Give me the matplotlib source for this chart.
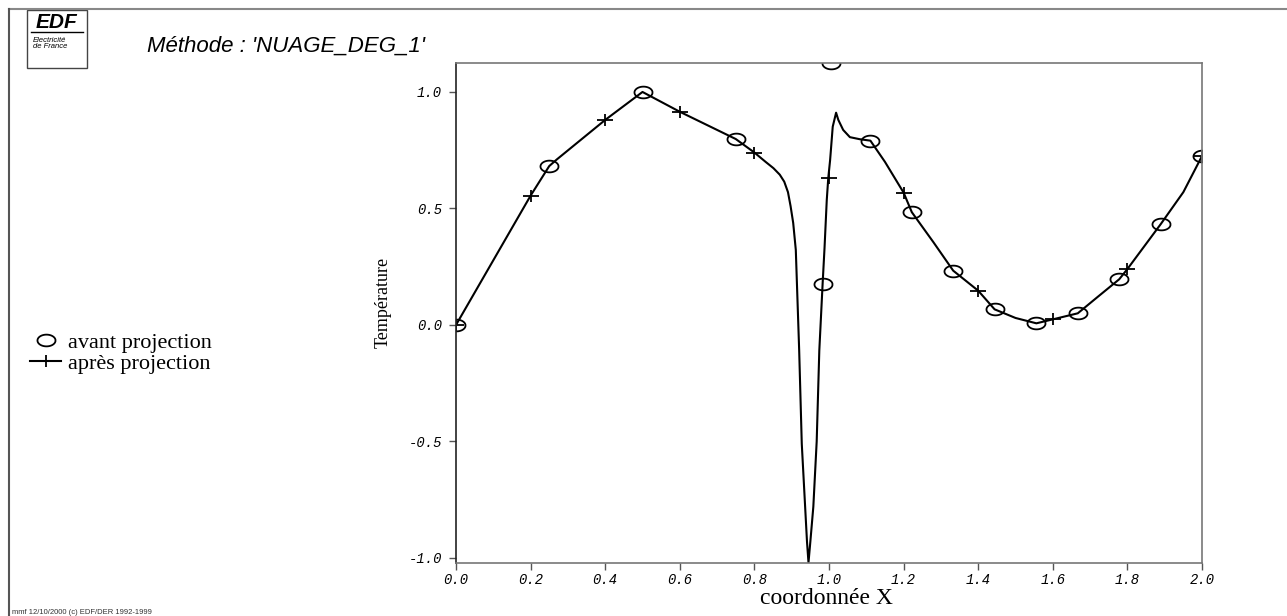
import matplotlib
matplotlib.use("Agg")
import matplotlib.pyplot as plt
from matplotlib.path import Path
from matplotlib.lines import Line2D
from matplotlib.patches import Rectangle
import numpy as np

# courbe "apres projection" (trace fin)
x_curve = [0.0, 0.2, 0.25, 0.27, 0.4, 0.5, 0.6, 0.75, 0.8, 0.83, 0.851, 0.868,
           0.880, 0.890, 0.897, 0.904, 0.911, 0.920, 0.927, 0.936, 0.941, 0.945,
           0.950, 0.958, 0.967, 0.974, 0.983, 0.988, 0.994, 0.998, 1.003, 1.010,
           1.019, 1.025, 1.038, 1.056, 1.083, 1.111, 1.15, 1.2, 1.222, 1.28,
           1.333, 1.4, 1.444, 1.5, 1.556, 1.6, 1.667, 1.72, 1.778, 1.8, 1.889,
           1.95, 2.0]
y_curve = [0.0, 0.555, 0.682, 0.71, 0.88, 1.0, 0.915, 0.798, 0.74, 0.70, 0.673, 0.645,
           0.615, 0.57, 0.51, 0.438, 0.322, -0.107, -0.51, -0.78, -0.93, -1.02,
           -0.93, -0.78, -0.50, -0.11, 0.18, 0.33, 0.536, 0.63, 0.708, 0.851,
           0.911, 0.88, 0.837, 0.806, 0.797, 0.791, 0.70, 0.568, 0.484, 0.355,
           0.233, 0.147, 0.067, 0.03, 0.007, 0.024, 0.05, 0.12, 0.196, 0.24, 0.432,
           0.57, 0.725]

# marqueurs "apres projection"
x_apres = [0.0, 0.2, 0.4, 0.6, 0.8, 1.0, 1.2, 1.4, 1.6, 1.8, 2.0]
y_apres = [0.0, 0.555, 0.88, 0.915, 0.74, 0.63, 0.568, 0.147, 0.024, 0.24, 0.725]

# points "avant projection"
x_avant = [0.0, 0.25, 0.5, 0.75, 0.984, 1.005, 1.111, 1.222, 1.333, 1.444,
           1.556, 1.667, 1.778, 1.889, 2.0]
y_avant = [0.0, 0.682, 1.0, 0.798, 0.176, 1.124, 0.791, 0.484, 0.233, 0.067,
           0.007, 0.05, 0.196, 0.432, 0.725]

x_ticks = [0.0, 0.2, 0.4, 0.6, 0.8, 1.0, 1.2, 1.4, 1.6, 1.8, 2.0]
y_ticks = [-1.0, -0.5, 0.0, 0.5, 1.0]

# marqueurs aplatis (cercle -> ellipse, croix elargie)
t = np.linspace(0, 2 * np.pi, 60)
ellipse = Path(np.column_stack([np.cos(t), 0.65 * np.sin(t)]))
plus = Path([(-1, 0), (1, 0), (0, -0.72), (0, 0.72)],
            [Path.MOVETO, Path.LINETO, Path.MOVETO, Path.LINETO])

W, H = 1287, 616
fig = plt.figure(figsize=(W / 100, H / 100), dpi=100)
fig.patch.set_facecolor("white")

ax = fig.add_axes([456 / W, 1 - 563.3 / H, (1202 - 456) / W, (563.3 - 63.3) / H])
ax.plot(x_curve, y_curve, color="black", lw=1.5)
ax.plot(x_apres, y_apres, ls="none", marker=plus, ms=11.5, mec="black", mew=1.3)
ax.plot(x_avant, y_avant, ls="none", marker=ellipse, ms=13, mfc="none",
        mec="black", mew=1.3)

ax.set_xlim(0, 2.0)
ax.set_ylim(-1.023, 1.123)
ax.set_xticks(x_ticks)
ax.set_yticks(y_ticks)
ax.set_xticklabels([f"{v:.1f}" for v in x_ticks])
ax.set_yticklabels([f"{v:.1f}" for v in y_ticks])
ax.tick_params(direction="out", length=5, width=1, color="#555555", pad=2,
               labelsize=10)
ax.tick_params(axis="y", pad=5)
for lab in ax.get_xticklabels() + ax.get_yticklabels():
    lab.set_family("Liberation Mono")
    lab.set_style("italic")
for side in ["left", "bottom", "top", "right"]:
    ax.spines[side].set_color("#777777")
    ax.spines[side].set_linewidth(1.2)
ax.spines["left"].set_color("#222222")

fig.text(826 / W, 1 - 598 / H, "coordonnée X", family="Liberation Serif",
         fontsize=17, ha="center", va="center")
fig.text(383 / W, 1 - 302 / H, "Température", family="Liberation Serif",
         fontsize=13, ha="center", va="center", rotation=90)

# titre
fig.text(147 / W, 1 - 46 / H, "Méthode : 'NUAGE_DEG_1'", family="Liberation Sans",
         style="italic", fontsize=16, ha="left", va="center")

# cadre exterieur
fig.add_artist(Line2D([9 / W, 1], [1 - 9 / H, 1 - 9 / H], color="#888888", lw=1.5))
fig.add_artist(Line2D([9 / W, 9 / W], [0, 1 - 9 / H], color="#555555", lw=1.5))

# logo EDF
fig.add_artist(Rectangle((27 / W, 1 - 68 / H), 60 / W, 58 / H, fill=False,
                         ec="#444444", lw=1.0, transform=fig.transFigure))
fig.text(57 / W, 1 - 22 / H, "EDF", family="Liberation Sans", weight="bold",
         style="italic", fontsize=15, ha="center", va="center")
fig.add_artist(Line2D([31 / W, 83 / W], [1 - 32 / H, 1 - 32 / H], color="black", lw=1.0))
fig.text(33 / W, 1 - 40 / H, "Electricité", family="Liberation Sans",
         style="italic", fontsize=5.5, ha="left", va="center")
fig.text(33 / W, 1 - 47 / H, "de France", family="Liberation Sans",
         style="italic", fontsize=5.5, ha="left", va="center")

# legende
h_avant = Line2D([], [], ls="none", marker=ellipse, ms=13, mfc="none",
                 mec="black", mew=1.3)
h_apres = Line2D([], [], color="black", lw=1.5, marker=plus, ms=11.5, mew=1.3)
fig.legend([h_avant, h_apres], ["avant projection", "après projection"],
           loc="center left", bbox_to_anchor=(30 / W, 1 - 353 / H),
           frameon=False, handlelength=1.4, handletextpad=0.3,
           labelspacing=0.0, borderaxespad=0, borderpad=0,
           prop={"family": "Liberation Serif", "size": 16})

# pied de page
fig.text(12 / W, 1 - 612 / H, "mmf 12/10/2000 (c) EDF/DER 1992-1999",
         family="Liberation Sans", fontsize=5.5, ha="left", va="center",
         color="#333333")

fig.savefig("out.png", dpi=100, facecolor="white")
